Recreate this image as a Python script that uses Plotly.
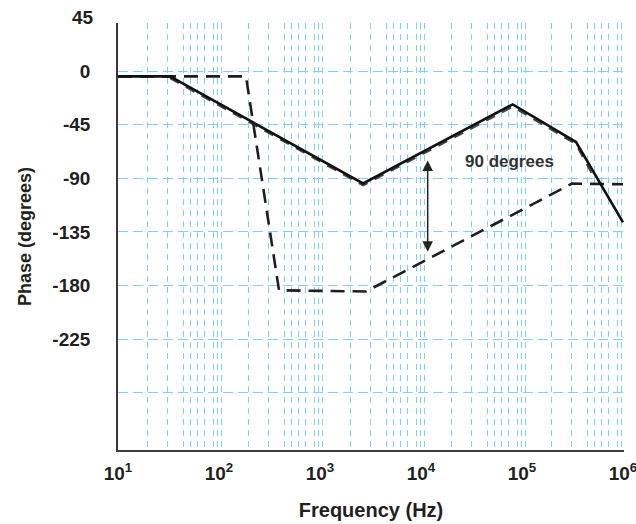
import math
import plotly.graph_objects as go

# ---- data ----
solid_freq = [10, 32.7, 2670, 80900, 342800, 1.0e6]
solid_phase = [-4.5, -4.5, -94.3, -28.0, -59.6, -127.0]

dashed_freq = [10, 185, 393, 2850, 312000, 1.0e6]
dashed_phase = [-4.5, -4.5, -184.0, -185.0, -94.5, -95.0]

asym_freq = [32.7, 2670, 80900, 342800, 520000]
asym_phase = [-6.0, -96.0, -30.0, -61.5, -90.0]

y_tick_vals = [0, -45, -90, -135, -180, -225, -270]
y_tick_text = ["0", "-45", "-90", "-135", "-180", "-225", ""]
x_tick_exps = [1, 2, 3, 4, 5, 6]
y_top_label = 45

# hand-drawn style grid: decade starts and in-decade offsets (in decades)
grid_decade_starts = [1.29, 2.29, 3.30, 4.30, 5.29]
grid_offsets = [0, 0.198, 0.356, 0.426, 0.495, 0.564, 0.653, 0.693, 0.733]

arrow_freq = 11650
arrow_top = -75
arrow_bottom = -153

Y_RANGE = [-318, 40.3]
X_RANGE = [1, 6.01]

FONT = "Liberation Sans, Arial, sans-serif"
TXT = "#231f20"
GRID = "#7fd0f5"

grid_vals = [10 ** (s + o) for s in grid_decade_starts for o in grid_offsets if s + o <= X_RANGE[1]]

fig = go.Figure()

# invisible trace to anchor the grid axis
fig.add_trace(go.Scatter(x=[10, 1e6], y=[0, 0], xaxis="x2", mode="lines",
                         line=dict(width=0), hoverinfo="skip", showlegend=False))

fig.add_trace(go.Scatter(x=asym_freq, y=asym_phase, mode="lines",
                         line=dict(color="#444444", width=2, dash="10px,8px"),
                         showlegend=False))
fig.add_trace(go.Scatter(x=dashed_freq, y=dashed_phase, mode="lines",
                         line=dict(color="#1e1e1e", width=2.6, dash="14px,8px"),
                         showlegend=False))
fig.add_trace(go.Scatter(x=solid_freq, y=solid_phase, mode="lines",
                         line=dict(color="#111111", width=2.6),
                         showlegend=False))

fig.update_layout(
    width=636, height=524,
    margin=dict(l=118, r=12, t=23, b=74),
    paper_bgcolor="white", plot_bgcolor="white",
    font=dict(family=FONT, color=TXT),
    xaxis=dict(
        type="log", range=X_RANGE, automargin=False,
        tickvals=[10 ** e for e in x_tick_exps],
        ticktext=[f"10<sup>{e}</sup>" for e in x_tick_exps],
        tickfont=dict(size=19, family=FONT, color=TXT, weight=700),
        ticklabeloverflow="allow",
        ticks="outside", ticklen=5, tickcolor="rgba(0,0,0,0)",
        showgrid=False, zeroline=False,
        showline=True, linecolor="#3a3a3a", linewidth=1.6,
        title=dict(text="Frequency (Hz)", font=dict(size=20, family=FONT, color=TXT, weight=700),
                   standoff=20),
    ),
    xaxis2=dict(
        type="log", range=X_RANGE, overlaying="x",
        tickvals=grid_vals, showticklabels=False, ticks="",
        showgrid=True, gridcolor=GRID, gridwidth=1.4, griddash="6px,5px",
        zeroline=False, showline=False,
    ),
    yaxis=dict(
        range=Y_RANGE, automargin=False,
        tickvals=y_tick_vals, ticktext=y_tick_text,
        tickfont=dict(size=19, family=FONT, color=TXT, weight=700),
        ticks="outside", ticklen=22, tickcolor="rgba(0,0,0,0)",
        showgrid=True, gridcolor=GRID, gridwidth=1.4, griddash="10px,5px",
        zeroline=False,
        showline=True, linecolor="#3a3a3a", linewidth=1.6,
        title=dict(text="Phase (degrees)", font=dict(size=18, family=FONT, color=TXT, weight=700),
                   standoff=16),
    ),
)

# '45' label sits above the plotted range (paper coords derived from the value)
y45_paper = (y_top_label - Y_RANGE[0]) / (Y_RANGE[1] - Y_RANGE[0])
fig.add_annotation(x=0, xref="paper", xanchor="right", xshift=-22,
                   y=y45_paper, yref="paper", yanchor="middle",
                   text=str(y_top_label), showarrow=False,
                   font=dict(size=19, family=FONT, color=TXT, weight=700))

fig.add_annotation(x=math.log10(75000), y=-76, xref="x", yref="y",
                   text="90 degrees", showarrow=False,
                   font=dict(size=17, family=FONT, color="#333333", weight=700))

# double-headed arrow
ax_log = math.log10(arrow_freq)
fig.add_annotation(x=ax_log, y=arrow_top, ax=ax_log, ay=arrow_bottom,
                   xref="x", yref="y", axref="x", ayref="y",
                   text="", showarrow=True, arrowhead=2, startarrowhead=2,
                   arrowside="end+start", arrowsize=1.4, arrowwidth=1.5,
                   arrowcolor="#222222")

fig.write_html("out.html")
